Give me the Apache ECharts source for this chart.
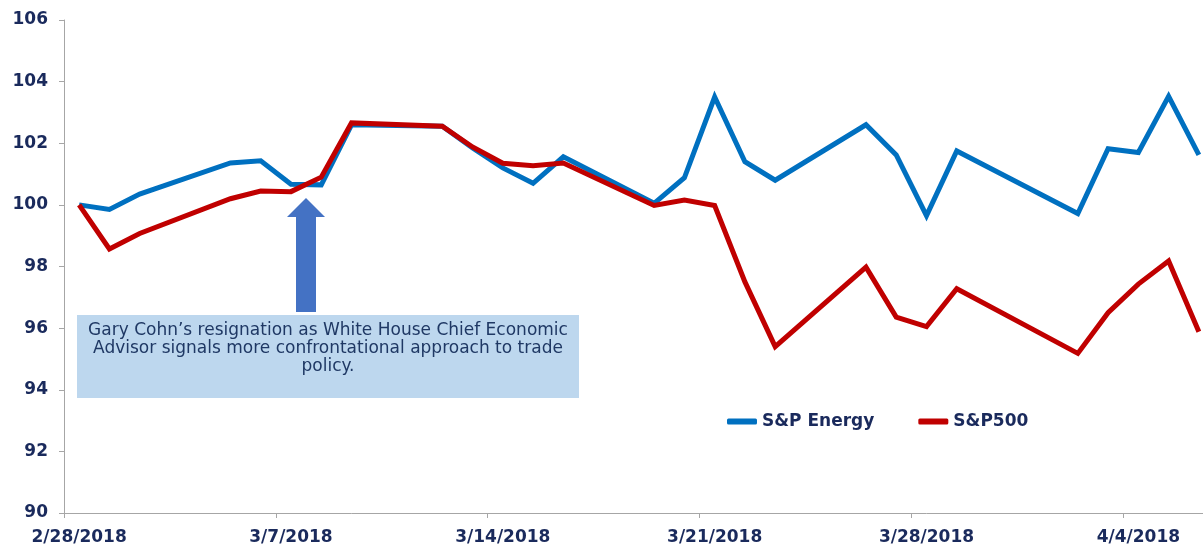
<!DOCTYPE html>
<html>
<head>
<meta charset="utf-8">
<script src="https://cdn.jsdelivr.net/npm/echarts@6/dist/echarts.min.js"></script>
<style>
  html, body { margin: 0; padding: 0; background: #fff; overflow: hidden; width: 1203px; height: 548px; }
  #chart { width: 1214px; height: 548px; }
</style>
</head>
<body>
<div id="chart"></div>
<script>
// Calendar days (one category per day)
const dates = [
  '2/28/2018','3/1/2018','3/2/2018','3/3/2018','3/4/2018','3/5/2018','3/6/2018','3/7/2018',
  '3/8/2018','3/9/2018','3/10/2018','3/11/2018','3/12/2018','3/13/2018','3/14/2018','3/15/2018',
  '3/16/2018','3/17/2018','3/18/2018','3/19/2018','3/20/2018','3/21/2018','3/22/2018','3/23/2018',
  '3/24/2018','3/25/2018','3/26/2018','3/27/2018','3/28/2018','3/29/2018','3/30/2018','3/31/2018',
  '4/1/2018','4/2/2018','4/3/2018','4/4/2018','4/5/2018','4/6/2018'
];
// null = non-trading day
const spEnergy = [
  100, 99.85, 100.35, null, null, 101.36, 101.43, 100.67,
  100.65, 102.6, null, null, 102.55, 101.85, 101.2, 100.7,
  101.56, null, null, 100.05, 100.88, 103.5, 101.4, 100.8,
  null, null, 102.6, 101.62, 99.65, 101.75, null, null,
  null, 99.72, 101.82, 101.7, 103.52, 101.62
];
const sp500 = [
  100, 98.57, 99.07, null, null, 100.2, 100.45, 100.43,
  100.9, 102.66, null, null, 102.55, 101.88, 101.35, 101.27,
  101.36, null, null, 99.98, 100.16, 99.98, 97.5, 95.4,
  null, null, 97.98, 96.36, 96.05, 97.28, null, null,
  null, 95.18, 96.5, 97.43, 98.18, 95.88
];
const seriesNames = ['S&P Energy', 'S&P500'];
const yMin = 90, yMax = 106, yStep = 2;
const annotationLines = [
  'Gary Cohn\u2019s resignation as White House Chief Economic',
  'Advisor signals more confrontational approach to trade',
  'policy.'
];

const navy = '#1a2a5c';
const axisGray = '#a6a6a6';

const chart = echarts.init(document.getElementById('chart'), null, { renderer: 'canvas' });
chart.setOption({
  animation: false,
  backgroundColor: '#ffffff',
  grid: { left: 64, top: 20, right: 0, bottom: 35, containLabel: false },
  legend: {
    left: 722, top: 408,
    itemWidth: 30, itemHeight: 6, itemGap: 44,
    icon: 'roundRect',
    textStyle: { color: navy, fontFamily: 'DejaVu Sans', fontWeight: 'bold', fontSize: 17 },
    data: seriesNames
  },
  xAxis: {
    type: 'category',
    data: dates,
    boundaryGap: true,
    axisLine: { lineStyle: { color: axisGray, width: 1 } },
    axisTick: { show: true, interval: 6, length: 5, lineStyle: { color: axisGray } },
    axisLabel: {
      interval: 6, margin: 16,
      color: navy, fontFamily: 'DejaVu Sans', fontWeight: 'bold', fontSize: 17
    },
    splitLine: { show: false }
  },
  yAxis: {
    type: 'value',
    min: yMin, max: yMax, interval: yStep,
    axisLine: { show: true, lineStyle: { color: axisGray, width: 1 } },
    axisTick: { show: true, length: 5, lineStyle: { color: axisGray } },
    axisLabel: {
      margin: 16,
      color: navy, fontFamily: 'DejaVu Sans', fontWeight: 'bold', fontSize: 17
    },
    splitLine: { show: false }
  },
  series: [
    {
      name: seriesNames[0], type: 'line', data: spEnergy, connectNulls: true,
      showSymbol: false, symbol: 'none',
      lineStyle: { color: '#0070c0', width: 5, join: 'miter' },
      itemStyle: { color: '#0070c0' }
    },
    {
      name: seriesNames[1], type: 'line', data: sp500, connectNulls: true,
      showSymbol: false, symbol: 'none',
      lineStyle: { color: '#c00000', width: 5, join: 'miter' },
      itemStyle: { color: '#c00000' }
    }
  ],
  graphic: [
    {
      type: 'polygon',
      shape: { points: [[306, 198], [325, 217], [316, 217], [316, 312], [296, 312], [296, 217], [287, 217]] },
      style: { fill: '#4472c4' },
      z: 10
    },
    {
      type: 'rect',
      shape: { x: 77, y: 315, width: 502, height: 83 },
      style: { fill: '#bdd7ee' },
      z: 10
    },
    {
      type: 'text',
      x: 328, y: 322,
      style: {
        text: annotationLines.join('\n'),
        align: 'center', verticalAlign: 'top',
        fill: '#1f3864', font: '17px "DejaVu Sans"', lineHeight: 18
      },
      z: 11
    }
  ]
});
</script>
</body>
</html>
